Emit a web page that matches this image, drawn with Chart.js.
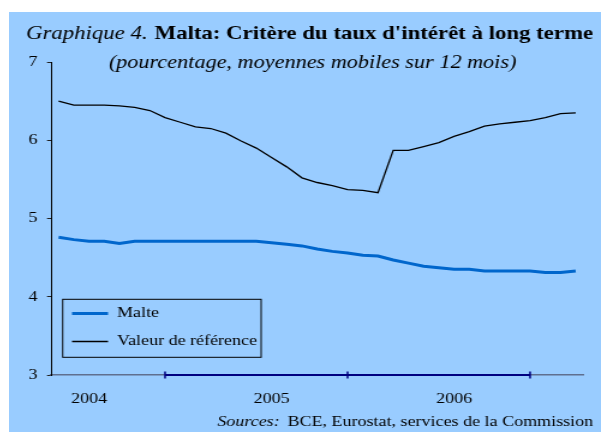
<!DOCTYPE html>
<html>
<head>
<meta charset="utf-8">
<script src="https://cdn.jsdelivr.net/npm/chart.js@4"></script>
<style>
  body { margin: 0; background: #fff; }
</style>
</head>
<body>
<!-- the reference is stretched sideways, so the canvas is drawn narrow and widened by css -->
<canvas id="chart" width="493" height="420"
    style="position:absolute;left:9px;top:12px;width:592px;height:420px;background:#99ccff"></canvas>
<script>
const FONT = "'Liberation Serif', 'Times New Roman', serif"

const months = [
    '2003-11', '2003-12',
    '2004-01', '2004-02', '2004-03', '2004-04', '2004-05', '2004-06', '2004-07', '2004-08', '2004-09', '2004-10', '2004-11', '2004-12',
    '2005-01', '2005-02', '2005-03', '2005-04', '2005-05', '2005-06', '2005-07', '2005-08', '2005-09', '2005-10', '2005-11', '2005-12',
    '2006-01', '2006-02', '2006-03', '2006-04', '2006-05', '2006-06', '2006-07', '2006-08', '2006-09'
]
const malte = [
    4.76, 4.73, 4.71, 4.71, 4.68, 4.71, 4.71, 4.71, 4.71, 4.71, 4.71, 4.71, 4.71, 4.71,
    4.69, 4.67, 4.65, 4.61, 4.58, 4.56, 4.53, 4.52, 4.47, 4.43, 4.39, 4.37, 4.35, 4.35,
    4.33, 4.33, 4.33, 4.33, 4.31, 4.31, 4.33
]
const valeurReference = [
    6.50, 6.45, 6.45, 6.45, 6.44, 6.42, 6.38, 6.29, 6.23, 6.17, 6.15, 6.09, 5.99, 5.90,
    5.78, 5.66, 5.52, 5.46, 5.42, 5.37, 5.36, 5.33, 5.87, 5.87, 5.92, 5.97, 6.05, 6.11,
    6.18, 6.21, 6.23, 6.25, 6.29, 6.34, 6.35
]
const axisTickMonths = ['2004-06', '2005-06', '2006-06']

const titleItalic = 'Graphique 4.'
const titleBold = "Malta: Critère du taux d'intérêt à long terme"
const subtitle = '(pourcentage, moyennes mobiles sur 12 mois)'
const sourcesLabel = 'Sources:'
const sourcesText = 'BCE, Eurostat, services de la Commission'

Chart.defaults.font.family = FONT
Chart.defaults.color = '#000'

// legend box sits in the lower left of the plot, with a thin frame round it
const decorPlugin = {
    id: 'decor',
    afterLayout(chart) {
        const area = chart.chartArea
        const legend = chart.legend
        legend.left = area.left + 4.5
        legend.top = area.bottom - 82
        legend.width = 170
        legend.height = 80
        legend.right = legend.left + legend.width
        legend.bottom = legend.top + legend.height
    },
    afterDraw(chart) {
        const ctx = chart.ctx
        const area = chart.chartArea
        const xScale = chart.scales.x
        const w = chart.width

        ctx.save()
        // legend frame
        ctx.strokeStyle = '#000'
        ctx.lineWidth = 1
        ctx.strokeRect(area.left + 9.75, area.bottom - 75.7, 165.25, 58)

        // dark part of the time axis, between the yearly ticks
        const tickPx = axisTickMonths.map(m => xScale.getPixelForValue(months.indexOf(m)))
        ctx.strokeStyle = '#000080'
        ctx.lineWidth = 2
        ctx.beginPath()
        ctx.moveTo(tickPx[0], area.bottom)
        ctx.lineTo(tickPx[tickPx.length - 1], area.bottom)
        ctx.stroke()
        ctx.lineWidth = 1.5
        tickPx.forEach(px => {
            ctx.beginPath()
            ctx.moveTo(px, area.bottom - 3.5)
            ctx.lineTo(px, area.bottom + 3.5)
            ctx.stroke()
        })

        // titles
        ctx.fillStyle = '#000'
        ctx.textBaseline = 'alphabetic'
        ctx.font = `italic 19px ${FONT}`
        ctx.textAlign = 'left'
        ctx.fillText(titleItalic, 14.2, 27)
        ctx.font = `bold 19px ${FONT}`
        ctx.textAlign = 'right'
        ctx.fillText(titleBold, w - 6.5, 27)

        ctx.font = `italic 18.5px ${FONT}`
        ctx.textAlign = 'center'
        ctx.fillText(subtitle, 252.9, 56)

        // sources line, right aligned
        ctx.font = `15px ${FONT}`
        ctx.textAlign = 'right'
        ctx.fillText(sourcesText, w - 6.5, 414)
        const textW = ctx.measureText(sourcesText).width
        ctx.font = `italic 15px ${FONT}`
        ctx.fillText(sourcesLabel, w - 6.5 - textW - 6.5, 414)
        ctx.restore()
    }
}

new Chart(document.querySelector('#chart'), {
    type: 'line',
    data: {
        labels: months,
        datasets: [
            {
                label: 'Malte',
                data: malte,
                borderColor: '#0066cc',
                backgroundColor: '#0066cc',
                borderWidth: 3,
                pointRadius: 0,
                tension: 0
            },
            {
                label: 'Valeur de référence',
                data: valeurReference,
                borderColor: '#000',
                backgroundColor: '#000',
                borderWidth: 1.3,
                pointRadius: 0,
                tension: 0
            }
        ]
    },
    options: {
        responsive: false,
        animation: false,
        events: [],
        layout: {
            padding: { left: 10, right: 14.7, top: 50, bottom: 17 }
        },
        plugins: {
            title: { display: false },
            tooltip: { enabled: false },
            legend: {
                position: 'chartArea',
                align: 'start',
                labels: {
                    usePointStyle: true,
                    pointStyle: 'line',
                    pointStyleWidth: 30,
                    padding: 13,
                    color: '#000',
                    font: { size: 15, family: FONT },
                    generateLabels: chart => chart.data.datasets.map((ds, i) => ({
                        text: ds.label,
                        strokeStyle: ds.borderColor,
                        fillStyle: ds.borderColor,
                        lineWidth: ds.borderWidth,
                        pointStyle: 'line',
                        hidden: false,
                        datasetIndex: i
                    }))
                }
            }
        },
        scales: {
            x: {
                type: 'category',
                offset: true,
                afterFit(scale) { scale.height = 40 },
                grid: { display: true, drawOnChartArea: false, drawTicks: false },
                border: { display: true, color: '#5f6f8f', width: 1.5 },
                ticks: {
                    autoSkip: false,
                    maxRotation: 0,
                    padding: 15,
                    color: '#000',
                    font: { size: 15, family: FONT },
                    callback: (value, index) => months[index].endsWith('-01') ? months[index].slice(0, 4) : ''
                }
            },
            y: {
                min: 3,
                max: 7,
                afterFit(scale) { scale.width = 25 },
                grid: { drawOnChartArea: false, drawTicks: true, tickLength: 3.3, color: '#222' },
                border: { display: true, color: '#000', width: 1 },
                ticks: {
                    stepSize: 1,
                    padding: 8,
                    color: '#000',
                    font: { size: 15, family: FONT }
                }
            }
        }
    },
    plugins: [decorPlugin]
})
</script>
</body>
</html>
